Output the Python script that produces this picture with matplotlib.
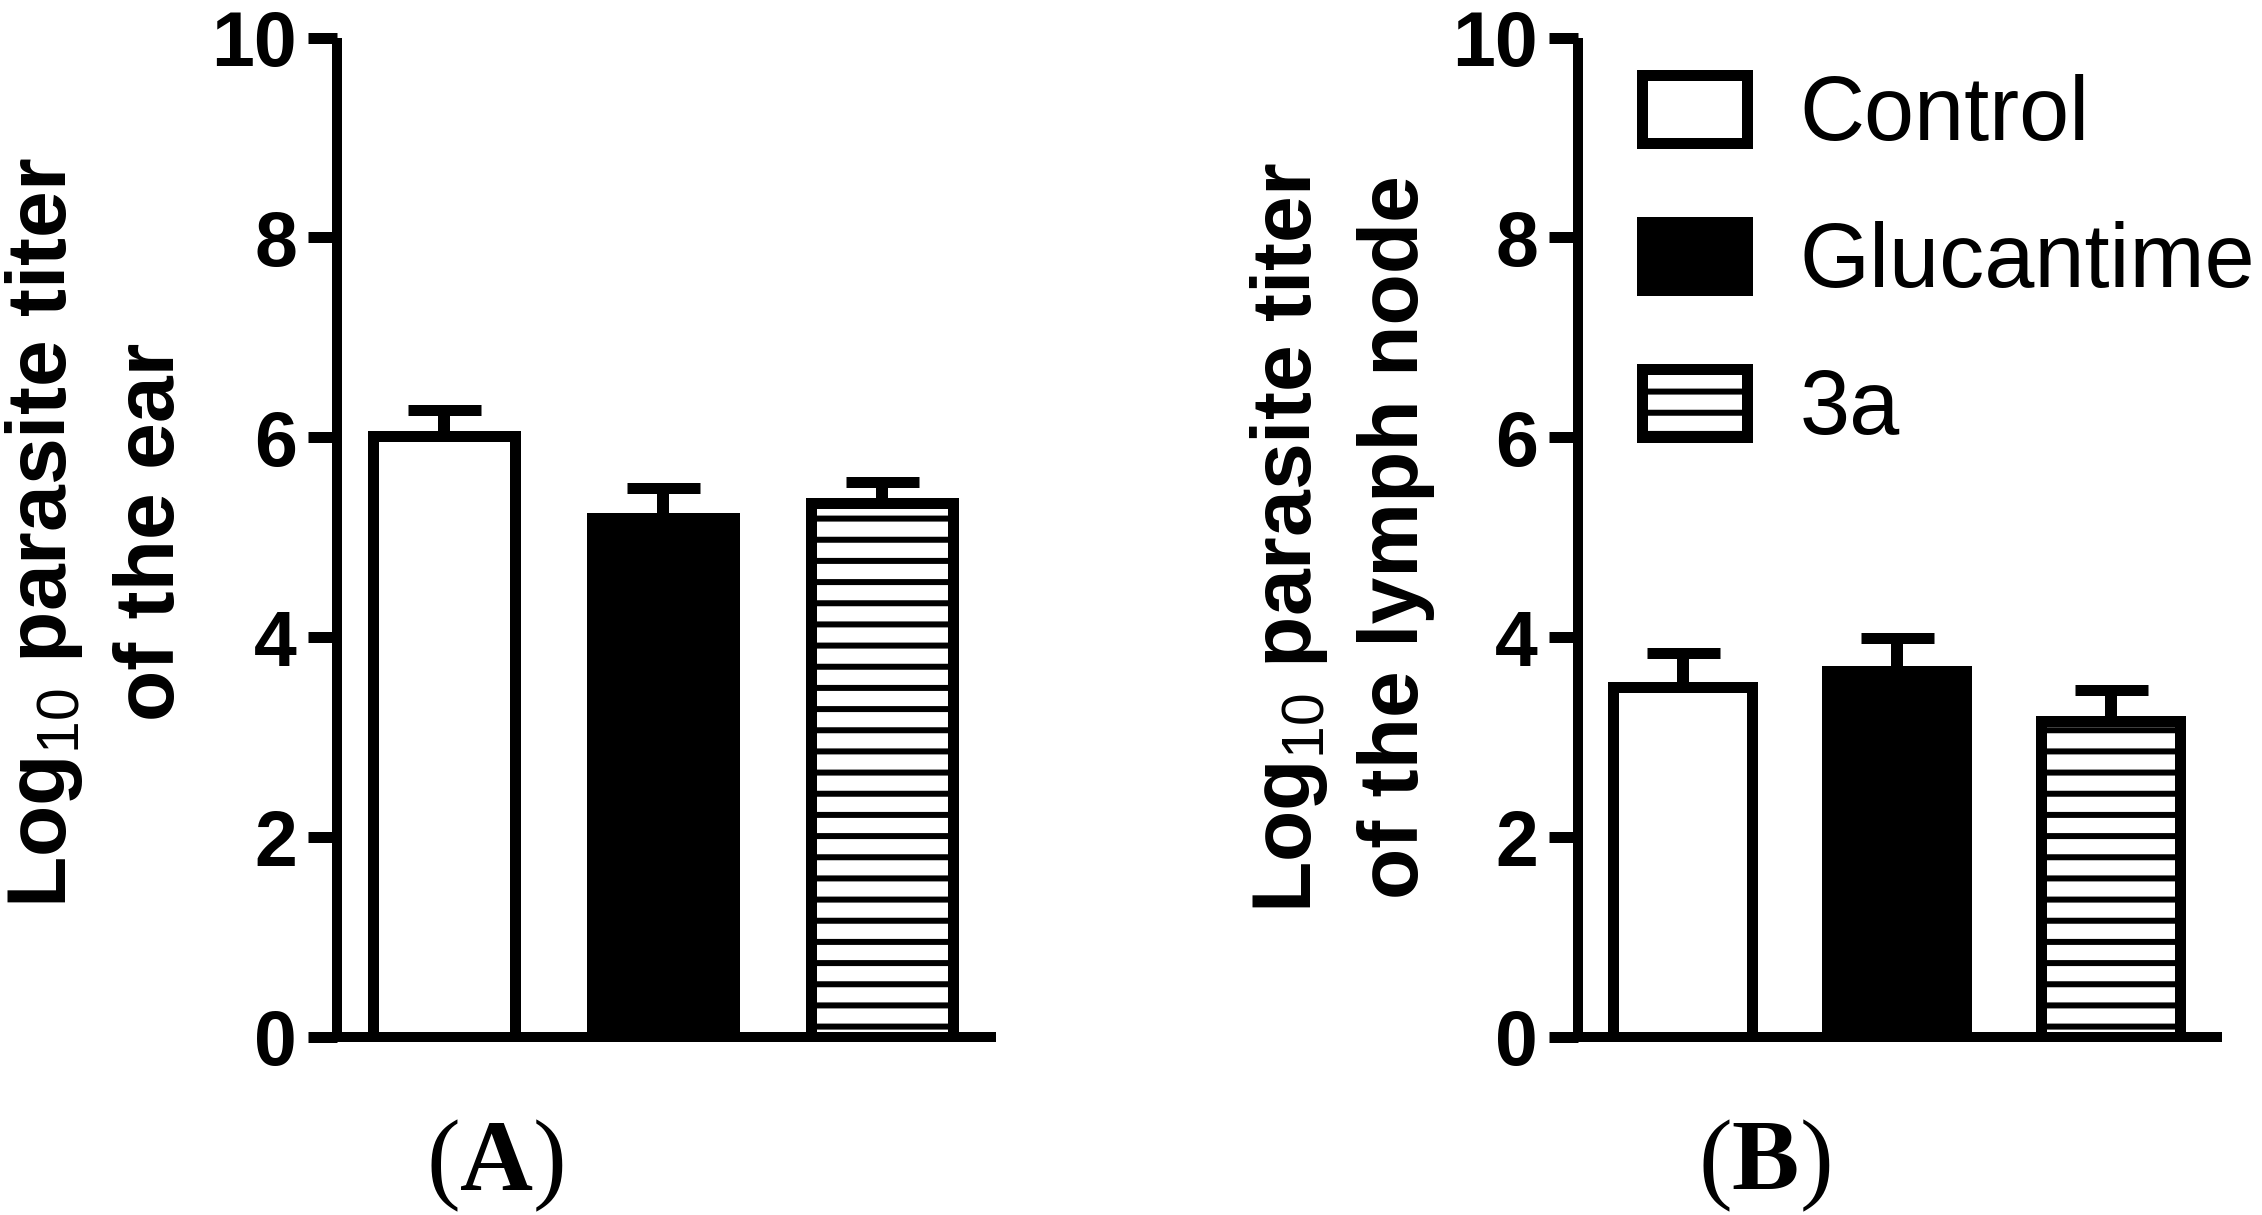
import numpy as np
import matplotlib
matplotlib.use("Agg")
import matplotlib.pyplot as plt

# data
groups = ["Control", "Glucantime", "3a"]
ear_mean = [6.01, 5.19, 5.34]
ear_sem = [0.26, 0.30, 0.21]
node_mean = [3.50, 3.66, 3.16]
node_sem = [0.345, 0.335, 0.31]

DPI = 127
W, H = 2262, 1215

plt.rcParams["font.family"] = ["Liberation Sans", "DejaVu Sans"]
plt.rcParams["mathtext.fontset"] = "custom"
plt.rcParams["mathtext.rm"] = "Liberation Sans"
plt.rcParams["mathtext.bf"] = "Liberation Serif:bold"
plt.rcParams["hatch.linewidth"] = 3.4


def px(x):
    # pixels -> points at this dpi
    return x * 72.0 / DPI


fig = plt.figure(figsize=(W / DPI, H / DPI), dpi=DPI)

ax_a = fig.add_axes([337 / W, (H - 1037) / H, 659 / W, 999.5 / H])
ax_b = fig.add_axes([1578 / W, (H - 1037) / H, 644 / W, 999.5 / H])

styles = [
    dict(facecolor="white", hatch=None),
    dict(facecolor="black", hatch=None),
    dict(facecolor="white", hatch="-"),
]


def draw_panel(ax, means, sems, ylabel, label_y):
    x = np.arange(len(groups))
    handles = []
    for i in range(len(groups)):
        b = ax.bar(x[i], means[i], width=0.65, color=styles[i]["facecolor"],
                   edgecolor="black", linewidth=px(11), hatch=styles[i]["hatch"],
                   zorder=2, label=groups[i])
        handles.append(b)
    ax.errorbar(x, means, yerr=[np.zeros(len(means)), sems], fmt="none",
                ecolor="black", elinewidth=px(12), capsize=px(36.5),
                capthick=px(11), zorder=1)

    ax.set_xlim(-0.49, 2.52)
    ax.set_ylim(0, 10)
    ax.set_yticks([0, 2, 4, 6, 8, 10])
    ax.set_xticks([])
    for s in ["top", "right"]:
        ax.spines[s].set_visible(False)
    for s in ["left", "bottom"]:
        ax.spines[s].set_linewidth(px(10))
        ax.spines[s].set_capstyle("butt")
    ax.tick_params(axis="y", direction="out", length=px(29), width=px(11),
                   pad=px(11), labelsize=px(77), color="black")
    for t in ax.get_yticklabels():
        t.set_fontweight("bold")

    ax.set_ylabel(ylabel, fontsize=px(84), fontweight="bold", linespacing=1.45)
    ax.yaxis.set_label_coords(-0.222, label_y)
    return handles


draw_panel(ax_a, ear_mean, ear_sem,
           "Log$_{\\mathrm{10}}$ parasite titer\nof the ear", 0.505)
handles = draw_panel(ax_b, node_mean, node_sem,
                     "Log$_{\\mathrm{10}}$ parasite titer\nof the lymph node", 0.5)

ax_b.legend(handles=handles, loc="upper left",
            bbox_to_anchor=(1642 / W, 1 - 74 / H), bbox_transform=fig.transFigure,
            frameon=False, fontsize=px(90), handlelength=1.17, handleheight=0.79,
            handletextpad=0.58, labelspacing=0.69, borderpad=0, borderaxespad=0)

fig.text(495 / W, 1 - 1190 / H, "($\\mathbf{A}$)", family="Liberation Serif",
         fontsize=px(101), ha="center", va="baseline")
fig.text(1764 / W, 1 - 1190 / H, "($\\mathbf{B}$)", family="Liberation Serif",
         fontsize=px(101), ha="center", va="baseline")

fig.savefig("out.png", dpi=DPI, facecolor="white")
